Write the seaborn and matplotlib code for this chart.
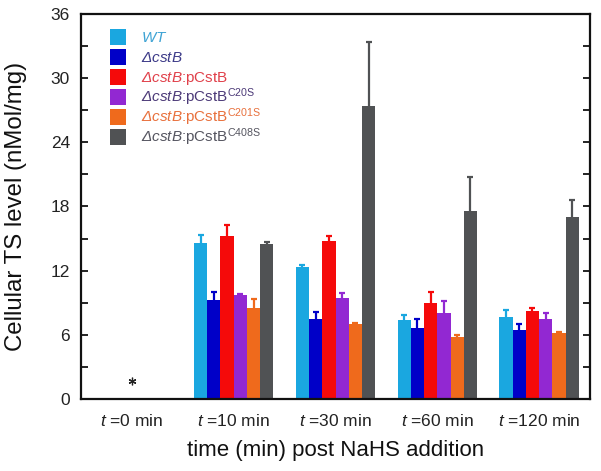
import matplotlib
matplotlib.use("Agg")
import matplotlib.pyplot as plt
import seaborn as sns
import pandas as pd
import numpy as np
from matplotlib.patches import Rectangle
from matplotlib.ticker import MultipleLocator

sns.set_theme(style="white")
plt.rcParams['font.family'] = ['Liberation Sans', 'DejaVu Sans']
plt.rcParams['mathtext.fontset'] = 'custom'
plt.rcParams['mathtext.rm'] = 'Liberation Sans'
plt.rcParams['mathtext.it'] = 'Liberation Sans:italic'
plt.rcParams['mathtext.sf'] = 'Liberation Sans:italic'
plt.rcParams['mathtext.bf'] = 'Liberation Sans:bold'

# ---- data ----
times = ["t0", "t10", "t30", "t60", "t120"]
time_labels = [r"$\it{t}$ =0 min", r"$\it{t}$ =10 min", r"$\it{t}$ =30 min",
               r"$\it{t}$ =60 min", r"$\it{t}$ =120 min"]
strains = ["WT", "dcstB", "dcstB:pCstB", "dcstB:pCstB C20S", "dcstB:pCstB C201S", "dcstB:pCstB C408S"]
strain_labels = [r"$\it{WT}$", r"$\mathsf{Δ}\it{cstB}$", r"$\mathsf{Δ}\it{cstB}$:pCstB",
                 r"$\mathsf{Δ}\it{cstB}$:pCstB$^{\rm C20S}$",
                 r"$\mathsf{Δ}\it{cstB}$:pCstB$^{\rm C201S}$",
                 r"$\mathsf{Δ}\it{cstB}$:pCstB$^{\rm C408S}$"]
bar_colors = ["#1aa7e0", "#0000c8", "#f50a0a", "#9228d2", "#ef6a1c", "#505254"]
text_colors = ["#3ea3d4", "#3c3a88", "#e0404a", "#4c3a78", "#e8703c", "#555560"]

# means per strain at t10, t30, t60, t120 (t0 has no bars)
wt      = [14.6, 12.35, 7.35, 7.65]
dcstb   = [9.25, 7.5, 6.6, 6.45]
pcstb   = [15.2, 14.8, 8.95, 8.2]
c20s    = [9.75, 9.4, 8.05, 7.5]
c201s   = [8.55, 7.05, 5.75, 6.2]
c408s   = [14.45, 27.35, 17.6, 17.05]
# upper error
wt_err    = [0.75, 0.15, 0.5, 0.65]
dcstb_err = [0.75, 0.6, 0.85, 0.55]
pcstb_err = [1.1, 0.45, 1.05, 0.3]
c20s_err  = [0.05, 0.55, 1.1, 0.55]
c201s_err = [0.8, 0.1, 0.2, 0.05]
c408s_err = [0.2, 6.0, 3.15, 1.6]
t0_value = 1.7

means = [wt, dcstb, pcstb, c20s, c201s, c408s]
errs = [wt_err, dcstb_err, pcstb_err, c20s_err, c201s_err, c408s_err]

rows = []
for s, m, e in zip(strains, means, errs):
    for t, v, ev in zip(times[1:], m, e):
        rows.append({"time": t, "strain": s, "value": v, "err": ev})
df = pd.DataFrame(rows)

fig = plt.figure(figsize=(6.01, 4.71), dpi=100)
ax = fig.add_axes([0.1348, 0.1529, 0.8469, 0.8174])

sns.barplot(data=df, x="time", y="value", hue="strain", order=times, hue_order=strains,
            palette=bar_colors, width=0.78, errorbar=None, ax=ax, legend=False,
            saturation=1, linewidth=0)

# upper-only error bars placed on the bar patches
for i, (s, c) in enumerate(zip(strains, bar_colors)):
    cont = ax.containers[i]
    xs_v, hs_v = [], []
    for p in cont.patches:
        h = p.get_height()
        if np.isfinite(h) and h > 0:
            xs_v.append(p.get_x() + p.get_width() / 2)
            hs_v.append(h)
    ev = df[df.strain == s].set_index("time").reindex(times[1:])["err"].values
    _, caps, _ = ax.errorbar(xs_v, hs_v, yerr=[np.zeros(len(ev)), ev], fmt="none",
                             ecolor=c, elinewidth=1.6, capsize=2.2, capthick=1.6, zorder=3)
    caps[0].set_visible(False)

ax.plot([times.index("t0")], [t0_value], marker=(6, 2, 0), color="#222222",
        markersize=5.5, markeredgewidth=0.9, linestyle="none")

ax.set_xlim(-0.5, 4.5)
ax.set_ylim(0, 36)
ax.yaxis.set_major_locator(MultipleLocator(6))
ax.yaxis.set_minor_locator(MultipleLocator(3))
ax.set_xticks(range(len(times)))
ax.set_xticklabels(time_labels, fontsize=12.5, color="#222222")
ax.tick_params(axis="y", which="both", direction="in", left=True, right=True,
               length=5, width=1.3, labelsize=12.5, pad=8, color="#111111",
               labelcolor="#222222")
ax.tick_params(axis="x", which="both", bottom=False, top=False, pad=4)
for sp in ax.spines.values():
    sp.set_visible(True)
    sp.set_linewidth(1.6)
    sp.set_color("#111111")

ax.set_xlabel("time (min) post NaHS addition", fontsize=16, labelpad=8, color="#111111")
ax.set_ylabel("Cellular TS level (nMol/mg)", fontsize=17.3, labelpad=17, color="#111111")

# legend (drawn manually for uniform row spacing)
x_box, w_box, h_box = 0.057, 0.0314, 0.0416
y0, dy = 0.941, 0.052
x_txt = 0.118
for k, (lab, bc, tc) in enumerate(zip(strain_labels, bar_colors, text_colors)):
    yc = y0 - k * dy
    ax.add_patch(Rectangle((x_box, yc - h_box / 2), w_box, h_box, transform=ax.transAxes,
                           facecolor=bc, edgecolor="none", clip_on=False))
    ax.text(x_txt, yc - 0.0143, lab, transform=ax.transAxes, fontsize=11, color=tc,
            va="baseline", ha="left")

fig.savefig("out.png", dpi=100)
